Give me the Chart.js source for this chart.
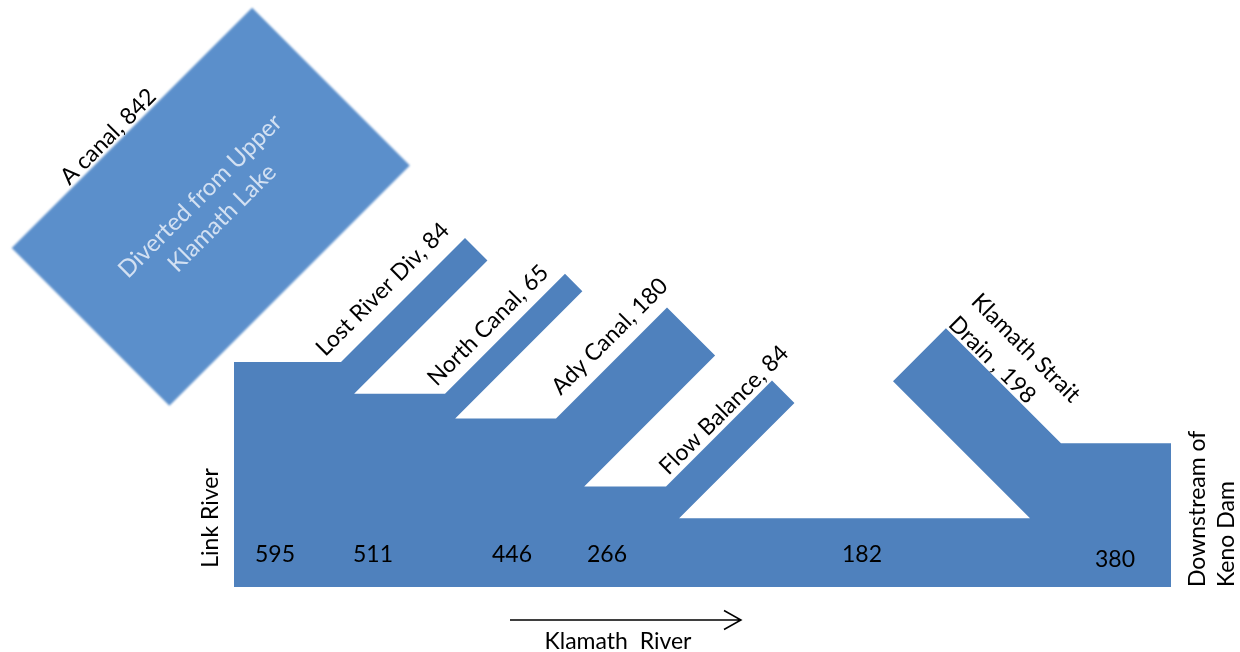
<!DOCTYPE html>
<html>
<head>
<meta charset="utf-8">
<title>Klamath River flows</title>
<script src="https://cdn.jsdelivr.net/npm/chart.js"></script>
<style>
  html, body { margin: 0; padding: 0; background: #fff; }
  #wrap { width: 1240px; height: 652px; position: relative; }
</style>
</head>
<body>
<div id="wrap"><canvas id="mychart"></canvas></div>
<script>
// flows in the main stem, upstream -> downstream
const reachFlows = [595, 511, 446, 266, 182, 380];
// diversions leaving the river
const diversions = ['Lost River Div', 'North Canal', 'Ady Canal', 'Flow Balance'];
const diversionFlows = [84, 65, 180, 84];
// return flow entering the river
const inflowLines = ['Klamath Strait', 'Drain'];
const inflowFlow = 198;
// upper canal
const canalName = 'A canal';
const canalFlow = 842;
const canalNote = ['Diverted from Upper', 'Klamath Lake'];

// layout, chart units are px with y going up from the bottom edge
const K = 0.378;              // px per flow unit
const bed = 65;
const riverLeft = 234, riverRight = 1171;
const divX = [341, 445, 556, 666];
const divReach = [124, 120, 111, 106];
const divLabelAlong = [81, 79, 96, 95];
const divLabelOff = [22, 18, 20, 13];
const inflowX = 1030, inflowReach = 137;
const flowLabelX = [275, 373, 512, 607, 862, 1115];
const flowLabelY = [25.5, 25.5, 25.5, 25.5, 25.5, 20.5];
const box = { cx: 210.75, cy: 445.25, half: 170, halfW: 111.5 };
const FONT = '23px Lato';

const r2 = Math.SQRT2;
const add = (p, a, u, b, n) => ({ x: p.x + a * u.x + b * n.x, y: p.y + a * u.y + b * n.y });
const U = { x: 1 / r2, y: 1 / r2 };    // up-right
const N = { x: -1 / r2, y: 1 / r2 };   // up-left

// outline of the river with its branches
const river = [{ x: riverLeft, y: bed }, { x: riverLeft, y: bed + reachFlows[0] * K }];
const divStart = [];
diversionFlows.forEach((f, i) => {
    const top = bed + reachFlows[i] * K;
    const next = bed + reachFlows[i + 1] * K;
    const w = f * K;
    const a = divReach[i];
    const tipL = { x: divX[i] + a, y: top + a };
    const tipR = { x: tipL.x + w / r2, y: tipL.y - w / r2 };
    divStart.push({ x: divX[i], y: top });
    river.push({ x: divX[i], y: top }, tipL, tipR, { x: tipR.x - (tipR.y - next), y: next });
});
const low = bed + reachFlows[4] * K;
const high = bed + reachFlows[5] * K;
const wi = inflowFlow * K;
const inLow = { x: inflowX - inflowReach, y: low + inflowReach };
const inUp = { x: inLow.x + wi / r2, y: inLow.y + wi / r2 };
river.push({ x: inflowX, y: low }, inLow, inUp, { x: inUp.x + (inUp.y - high), y: high },
    { x: riverRight, y: high }, { x: riverRight, y: bed }, { x: riverLeft, y: bed });

// the rotated canal box
const c = { x: box.cx, y: box.cy };
const canalBox = [
    add(c, box.half, U, box.halfW, N),
    add(c, box.half, U, -box.halfW, N),
    add(c, -box.half, U, -box.halfW, N),
    add(c, -box.half, U, box.halfW, N),
    add(c, box.half, U, box.halfW, N)
];

const toPx = (chart, p) => ({ x: chart.scales.x.getPixelForValue(p.x), y: chart.scales.y.getPixelForValue(p.y) });

const textAt = (chart, pt, angle, lines, o) => {
    const g = chart.ctx;
    const p = toPx(chart, pt);
    g.save();
    g.translate(p.x, p.y);
    g.rotate(angle);
    if (o.filter) g.filter = o.filter;
    g.font = o.font || FONT;
    g.fillStyle = o.color || '#000';
    g.textAlign = o.align || 'center';
    g.textBaseline = o.baseline || 'middle';
    lines.forEach((t, i) => g.fillText(t, o.dx || 0, (o.dy || 0) + i * (o.lh || 0)));
    g.restore();
};

const labels = {
    id: 'labels',
    beforeDatasetsDraw(chart) {
        chart.ctx.filter = 'blur(1px)';   // soft edge of the canal box
    },
    afterDatasetDraw(chart, args) {
        if (args.index === 1) chart.ctx.filter = 'none';
    },
    afterDatasetsDraw(chart) {
        const g = chart.ctx;
        g.filter = 'none';
        // canal box
        textAt(chart, c, -Math.PI / 4, canalNote,
            { font: '24px Lato', color: 'rgba(232,239,249,0.85)', dy: -15, lh: 31, filter: 'blur(0.6px)' });
        textAt(chart, add(c, -23, U, box.halfW + 10.5, N), -Math.PI / 4, [canalName + ', ' + canalFlow], {});
        // diversions
        diversions.forEach((d, i) => {
            textAt(chart, add(divStart[i], divLabelAlong[i], U, divLabelOff[i], N), -Math.PI / 4,
                [d + ', ' + diversionFlows[i]], {});
        });
        // inflow
        textAt(chart, inUp, Math.PI / 4, [inflowLines[0], inflowLines[1] + ' , ' + inflowFlow],
            { align: 'left', baseline: 'alphabetic', dx: -1, dy: -35, lh: 32 });
        // flows in the main stem
        reachFlows.forEach((v, i) => {
            textAt(chart, { x: flowLabelX[i], y: bed + flowLabelY[i] }, 0, [String(v)], { baseline: 'alphabetic' });
        });
        // ends of the reach
        textAt(chart, { x: riverLeft, y: bed }, -Math.PI / 2, ['Link River'],
            { baseline: 'alphabetic', dx: 69, dy: -16 });
        textAt(chart, { x: riverRight, y: bed }, -Math.PI / 2, ['Downstream of', 'Keno Dam'],
            { align: 'left', baseline: 'alphabetic', dy: 34, lh: 29 });
        // flow direction arrow
        const a0 = toPx(chart, { x: 510, y: bed - 33 });
        const a1 = toPx(chart, { x: 741, y: bed - 33 });
        g.save();
        g.strokeStyle = '#000';
        g.lineWidth = 1.5;
        g.beginPath();
        g.moveTo(a0.x, a0.y);
        g.lineTo(a1.x, a1.y);
        g.moveTo(a1.x - 17, a1.y - 9.5);
        g.lineTo(a1.x, a1.y);
        g.lineTo(a1.x - 17, a1.y + 9.5);
        g.stroke();
        g.restore();
        textAt(chart, { x: 618, y: bed - 62 }, 0, ['Klamath  River'], { baseline: 'alphabetic' });
    }
};

const ctx = document.getElementById('mychart').getContext('2d');
const mychart = new Chart(ctx, {
    type: 'scatter',
    data: {
        datasets: [
            {
                label: 'Klamath River',
                data: river,
                showLine: true,
                fill: 'shape',
                backgroundColor: '#4f81bd',
                borderColor: 'rgba(0,0,0,0)',
                borderWidth: 0,
                pointRadius: 0,
                tension: 0
            },
            {
                label: canalName,
                data: canalBox,
                showLine: true,
                fill: 'shape',
                backgroundColor: '#5b8fcb',
                borderColor: 'rgba(0,0,0,0)',
                borderWidth: 0,
                pointRadius: 0,
                tension: 0
            }
        ]
    },
    options: {
        responsive: true,
        maintainAspectRatio: false,
        animation: false,
        events: [],
        layout: { padding: 0 },
        scales: {
            x: { type: 'linear', min: 0, max: 1240, display: false },
            y: { type: 'linear', min: 0, max: 652, display: false }
        },
        plugins: { legend: { display: false }, tooltip: { enabled: false } }
    },
    plugins: [labels]
});
</script>
</body>
</html>
